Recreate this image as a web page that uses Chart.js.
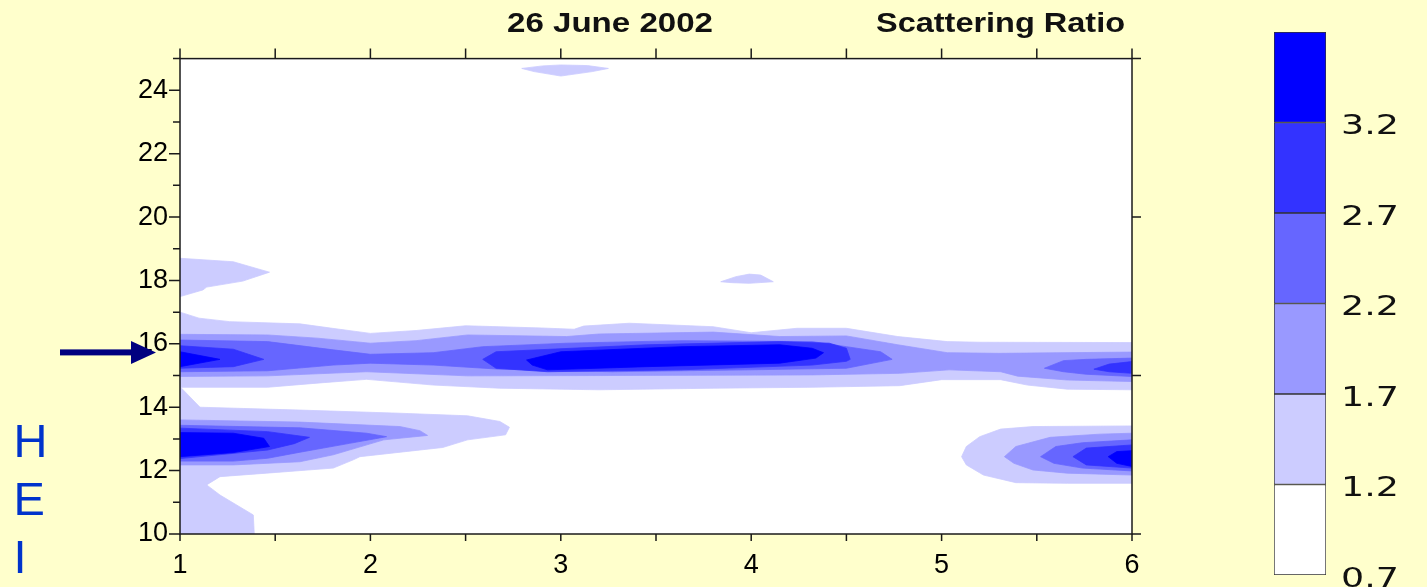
<!DOCTYPE html>
<html>
<head>
<meta charset="utf-8">
<title>Scattering Ratio - 26 June 2002</title>
<script src="https://cdn.jsdelivr.net/npm/chart.js@4.4.1/dist/chart.umd.min.js"></script>
<style>
    html, body { margin: 0; padding: 0; background: #FFFFCC; }
    #wrap { position: relative; width: 1427px; height: 587px; overflow: hidden; }
    #main { position: absolute; left: 0; top: 0; }
    #scale { position: absolute; left: 1240px; top: 0; }
</style>
</head>
<body>
<div id="wrap">
    <canvas id="main" width="1427" height="587"></canvas>
    <canvas id="scale" width="187" height="587"></canvas>
</div>
<script>
// Contour levels of the scattering ratio and the fill of each band
const levels = [0.7, 1.2, 1.7, 2.2, 2.7, 3.2, 3.7];
const bandColors = ['#FFFFFF', '#CCCCFF', '#9999FF', '#6666FF', '#3333FF', '#0000FF'];

// Axis tick labels
const xTickValues = [1, 2, 3, 4, 5, 6];
const yTickValues = [10, 12, 14, 16, 18, 20, 22, 24];
const arrowHeight = 15.73; // km, the marked layer

// Regions where ratio >= 1.2  (points are [x, height km])
const above12 = [
    [[2.795, 24.69], [2.905, 24.77], [3.0, 24.8], [3.14, 24.78], [3.25, 24.69], [3.165, 24.59], [3.0, 24.45], [2.86, 24.59]],
    [[3.84, 17.96], [3.92, 18.12], [3.99, 18.2], [4.05, 18.17], [4.116, 17.96], [3.99, 17.91], [3.9, 17.93]],
    [[1, 18.7], [1.28, 18.59], [1.47, 18.26], [1.33, 17.98], [1.14, 17.79], [1.12, 17.7], [1, 17.49]],
    [[1, 17.0], [1.1, 16.81], [1.26, 16.7], [1.63, 16.63], [1.8, 16.49], [2.0, 16.33], [2.24, 16.42], [2.5, 16.57],
     [2.9, 16.5], [3.07, 16.46], [3.12, 16.56], [3.36, 16.65], [3.8, 16.54], [4.0, 16.35], [4.24, 16.49], [4.5, 16.49],
     [4.77, 16.23], [5.03, 16.07], [5.2, 16.05], [6, 16.04], [6, 14.55], [5.66, 14.57], [5.45, 14.7], [5.31, 14.87],
     [5.0, 14.87], [4.78, 14.68], [4.32, 14.63], [3.8, 14.6], [3.2, 14.55], [2.68, 14.6], [2.33, 14.7], [1.98, 14.88],
     [1.72, 14.76], [1.46, 14.63], [1, 14.63]],
    [[1, 14.65], [1.105, 14.0], [1.63, 13.91], [2.155, 13.81], [2.51, 13.73], [2.68, 13.55], [2.73, 13.37], [2.71, 13.13],
     [2.51, 12.97], [2.38, 12.73], [1.945, 12.44], [1.91, 12.34], [1.805, 12.08], [1.455, 11.92], [1.21, 11.81],
     [1.14, 11.55], [1.21, 11.23], [1.385, 10.6], [1.39, 10], [1, 10]],
    [[6, 13.41], [5.48, 13.39], [5.31, 13.31], [5.2, 13.07], [5.13, 12.76], [5.105, 12.44], [5.13, 12.18], [5.22, 11.86],
     [5.39, 11.62], [5.66, 11.6], [6, 11.6]]
];

// ratio >= 1.7
const above17 = [
    [[1, 16.3], [1.46, 16.28], [1.72, 16.18], [2.0, 16.02], [2.24, 16.1], [2.51, 16.28], [3.03, 16.23], [3.2, 16.31],
     [3.8, 16.37], [4.15, 16.23], [4.5, 16.25], [4.77, 15.97], [5.03, 15.72], [5.3, 15.7], [6, 15.74], [6, 14.81],
     [5.66, 14.86], [5.4, 14.98], [5.31, 15.12], [5.04, 15.18], [4.78, 15.07], [4.32, 15.02], [3.2, 15.0], [2.51, 14.99],
     [1.98, 15.12], [1.46, 14.99], [1, 14.97]],
    [[1, 13.6], [1.63, 13.53], [2.155, 13.39], [2.26, 13.26], [2.3, 13.11], [2.07, 12.97], [1.805, 12.5], [1.63, 12.28],
     [1.28, 12.18], [1, 12.18]],
    [[5.33, 12.44], [5.39, 12.76], [5.57, 13.05], [5.83, 13.15], [6, 13.18], [6, 11.86], [5.66, 11.92], [5.48, 12.02], [5.38, 12.23]]
];

// ratio >= 2.2
const above22 = [
    [[1, 16.12], [1.46, 16.07], [1.805, 15.81], [2.0, 15.67], [2.33, 15.72], [2.59, 15.91], [3.03, 16.02], [3.63, 16.1],
     [4.32, 16.07], [4.5, 15.91], [4.68, 15.75], [4.74, 15.51], [4.5, 15.23], [3.98, 15.18], [3.27, 15.12], [2.68, 15.2],
     [2.33, 15.33], [2.0, 15.39], [1.805, 15.33], [1.46, 15.15], [1, 15.12]],
    [[5.54, 15.23], [5.64, 15.47], [5.76, 15.51], [6, 15.55], [6, 14.97], [5.76, 15.04], [5.64, 15.12]],
    [[1, 13.43], [1.63, 13.35], [1.98, 13.18], [2.085, 13.07], [1.89, 12.86], [1.63, 12.58], [1.46, 12.39], [1.28, 12.3], [1, 12.3]],
    [[5.52, 12.44], [5.6, 12.76], [5.74, 12.88], [6, 12.97], [6, 11.99], [5.74, 12.08], [5.59, 12.23]]
];

// ratio >= 2.7
const above27 = [
    [[1, 15.94], [1.28, 15.83], [1.44, 15.51], [1.28, 15.28], [1, 15.23]],
    [[2.59, 15.51], [2.66, 15.75], [3.45, 15.97], [4.15, 16.07], [4.41, 16.02], [4.5, 15.86], [4.52, 15.51], [4.5, 15.45],
     [4.32, 15.33], [3.63, 15.18], [2.93, 15.12], [2.66, 15.23]],
    [[5.8, 15.2], [5.88, 15.36], [6, 15.44], [6, 15.07], [5.88, 15.12]],
    [[1, 13.34], [1.46, 13.23], [1.68, 13.05], [1.6, 12.85], [1.46, 12.65], [1, 12.38]],
    [[5.69, 12.44], [5.76, 12.71], [6, 12.81], [6, 12.08], [5.76, 12.18]]
];

// ratio >= 3.2
const above32 = [
    [[1, 15.75], [1.21, 15.51], [1, 15.28]],
    [[2.82, 15.49], [3.0, 15.75], [3.63, 15.91], [4.15, 15.97], [4.32, 15.86], [4.38, 15.72], [4.34, 15.55], [4.15, 15.39],
     [3.45, 15.28], [2.93, 15.18], [2.85, 15.33]],
    [[1, 13.2], [1.28, 13.18], [1.44, 13.02], [1.47, 12.76], [1.28, 12.57], [1, 12.44]],
    [[5.875, 12.44], [5.92, 12.6], [6, 12.63], [6, 12.13], [5.92, 12.23]]
];

const contourSets = [above12, above17, above22, above27, above32];

const FONT = '"Liberation Sans", Arial, sans-serif';

// close the ring and turn [x, y] pairs into chart points
const toPoints = (poly) => poly.concat([poly[0]]).map(([x, y]) => ({ x, y }));

// one filled polygon per contour region, lighter bands underneath
const buildDatasets = () => {
    const sets = [];
    contourSets.forEach((shapes, k) => {
        const color = bandColors[k + 1];
        shapes.forEach(poly => sets.push({
            data: toPoints(poly),
            showLine: true,
            fill: 'shape',
            backgroundColor: color,
            borderColor: color,
            borderWidth: 0.8,
            pointRadius: 0,
            pointHoverRadius: 0,
            tension: 0,
            order: 10 - k
        }));
    });
    return sets;
};

// text squeezed / stretched to a given width (slide text is stretched)
const drawStretched = (ctx, text, x, y, width) => {
    const w = ctx.measureText(text).width;
    ctx.save();
    ctx.translate(x, y);
    ctx.scale(width / w, 1);
    ctx.fillText(text, 0, 0);
    ctx.restore();
};

const framePlugin = {
    id: 'frame',
    beforeDraw(chart) {
        const { ctx, chartArea: a } = chart;
        ctx.save();
        ctx.fillStyle = '#FFFFFF';
        ctx.fillRect(a.left, a.top, a.right - a.left, a.bottom - a.top);
        ctx.restore();
    },
    afterDraw(chart) {
        const { ctx, chartArea: a, scales: { x, y } } = chart;
        ctx.save();

        // frame and tick marks
        ctx.strokeStyle = '#1a1a1a';
        ctx.lineWidth = 1.5;
        ctx.strokeRect(a.left, a.top, a.right - a.left, a.bottom - a.top);
        ctx.beginPath();
        for (let v = x.min; v <= x.max + 1e-9; v += 0.5) {
            const px = x.getPixelForValue(v);
            ctx.moveTo(px, a.bottom); ctx.lineTo(px, a.bottom + 7);
            ctx.moveTo(px, a.top); ctx.lineTo(px, a.top - 10);
        }
        for (let v = y.min; v <= y.max; v += 1) {
            const py = y.getPixelForValue(v);
            ctx.moveTo(a.left, py); ctx.lineTo(a.left - (v % 2 === 0 ? 11 : 7), py);
            if (v % 5 === 0) { ctx.moveTo(a.right, py); ctx.lineTo(a.right + 9, py); }
        }
        ctx.stroke();

        // titles
        ctx.fillStyle = '#111111';
        ctx.font = 'bold 28px ' + FONT;
        ctx.textAlign = 'left';
        ctx.textBaseline = 'alphabetic';
        drawStretched(ctx, '26 June 2002', 507, 32, 206);
        drawStretched(ctx, 'Scattering Ratio', 876, 32, 249);

        // cut-off vertical axis word
        ctx.fillStyle = '#0033CC';
        ctx.font = '47px ' + FONT;
        ['H', 'E', 'I'].forEach((ch, i) => ctx.fillText(ch, 13.5, 457 + i * 58));

        // arrow pointing at the layer
        const ay = y.getPixelForValue(arrowHeight);
        ctx.fillStyle = '#000080';
        ctx.fillRect(60, ay - 3, 73, 6);
        ctx.beginPath();
        ctx.moveTo(131, ay - 11.5);
        ctx.lineTo(156, ay);
        ctx.lineTo(131, ay + 11.5);
        ctx.closePath();
        ctx.fill();

        ctx.restore();
    }
};

const mainChart = new Chart(document.getElementById('main'), {
    type: 'scatter',
    data: { datasets: buildDatasets() },
    options: {
        responsive: false,
        animation: false,
        events: [],
        layout: { padding: { left: 0, top: 58.6, right: 295, bottom: 0 } },
        plugins: { legend: { display: false }, tooltip: { enabled: false } },
        scales: {
            x: {
                type: 'linear', min: 1, max: 6,
                grid: { display: false, drawTicks: false },
                border: { display: false },
                afterBuildTicks: (axis) => { axis.ticks = xTickValues.map(v => ({ value: v })); },
                afterFit: (axis) => { axis.height = 53; axis.paddingLeft = 0; axis.paddingRight = 0; },
                ticks: { font: { family: FONT, size: 27 }, color: '#000', padding: 15, maxRotation: 0, autoSkip: false }
            },
            y: {
                type: 'linear', min: 10, max: 25,
                grid: { display: false, drawTicks: false },
                border: { display: false },
                afterBuildTicks: (axis) => { axis.ticks = yTickValues.map(v => ({ value: v })); },
                afterFit: (axis) => { axis.width = 180; axis.paddingTop = 0; axis.paddingBottom = 0; },
                ticks: { font: { family: FONT, size: 27 }, color: '#000', padding: 12, autoSkip: false }
            }
        }
    },
    plugins: [framePlugin]
});

// colour key: one floating bar per band, labels at the band edges
const keyLabels = {
    id: 'keyLabels',
    afterDraw(chart) {
        const { ctx, chartArea: a, scales: { y } } = chart;
        ctx.save();
        ctx.fillStyle = '#111111';
        ctx.font = '26px "DejaVu Sans", Verdana, sans-serif';
        ctx.textBaseline = 'middle';
        levels.slice(0, -1).forEach(v => {
            ctx.save();
            ctx.translate(a.right + 15, y.getPixelForValue(v) + 5);
            ctx.scale(1.4, 1);
            ctx.fillText(v.toFixed(1), 0, 0);
            ctx.restore();
        });
        ctx.restore();
    }
};

const keyChart = new Chart(document.getElementById('scale'), {
    type: 'bar',
    data: {
        labels: [''],
        datasets: bandColors.map((c, i) => ({
            data: [[levels[i], levels[i + 1]]],
            backgroundColor: c,
            borderColor: '#333333',
            borderWidth: 1,
            borderSkipped: false,
            barPercentage: 1,
            categoryPercentage: 1
        }))
    },
    options: {
        responsive: false,
        animation: false,
        events: [],
        layout: { padding: { left: 34, right: 101, top: 32, bottom: 12 } },
        plugins: { legend: { display: false }, tooltip: { enabled: false } },
        scales: {
            x: { display: false, stacked: true },
            y: { display: false, min: levels[0], max: levels[levels.length - 1] }
        }
    },
    plugins: [keyLabels]
});
</script>
</body>
</html>
